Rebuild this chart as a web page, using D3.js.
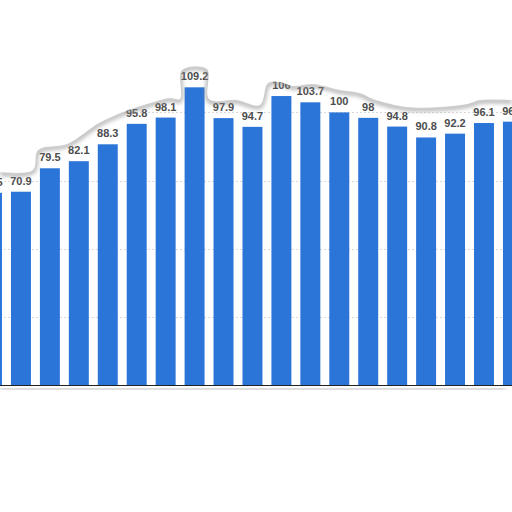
<!DOCTYPE html>
<html><head><meta charset="utf-8">
<script src="https://cdn.jsdelivr.net/npm/d3@7"></script>
<style>html,body{margin:0;padding:0;background:#fff;overflow:hidden}</style>
</head><body>
<svg id="c" width="512" height="512"></svg>
<script>
const categories = ["c1","c2","c3","c4","c5","c6","c7","c8","c9","c10","c11","c12","c13","c14","c15","c16","c17","c18","c19"];
const values = [70.5,70.9,79.5,82.1,88.3,95.8,98.1,109.2,97.9,94.7,106,103.7,100,98,94.8,90.8,92.2,96.1,96.6];
const gridTicks = [25,50,75,100,125];

const svg = d3.select("#c");
const x = d3.scaleBand().domain(categories).range([-22.47, 527.4]).paddingInner(0.31).paddingOuter(0.155);
const y = d3.scaleLinear().domain([0,125]).range([385, 44.25]);

const defs = svg.append("defs");
const f = defs.append("filter").attr("id","blur").attr("x","-10%").attr("y","-50%").attr("width","120%").attr("height","200%");
f.append("feGaussianBlur").attr("stdDeviation",2);

// gridlines
svg.append("g").selectAll("line").data(gridTicks).join("line")
  .attr("x1",0).attr("x2",512)
  .attr("y1",d=>Math.round(y(d))+0.5).attr("y2",d=>Math.round(y(d))+0.5)
  .attr("stroke","#d8d8d8").attr("stroke-dasharray","2,2");

// bars
svg.append("g").selectAll("rect").data(values).join("rect")
  .attr("x",(d,i)=>x(categories[i]))
  .attr("width",x.bandwidth())
  .attr("y",d=>y(d))
  .attr("height",d=>y(0)-y(d))
  .attr("fill","#2b74d8");

// labels
svg.append("g").selectAll("text").data(values).join("text")
  .attr("x",(d,i)=>x(categories[i])+x.bandwidth()/2)
  .attr("y",d=>y(d)-7)
  .attr("text-anchor","middle")
  .attr("font-family","Liberation Sans, Arial, sans-serif")
  .attr("font-size","11px").attr("font-weight","bold")
  .attr("fill","#4d4d4d")
  .text(d=>d);

// torn paper top edge (decoration)
const tear = [[0,175],[33,173],[38,153],[67,147],[90,132],[97,127],[123,115],[147,107],[170,101],[180,102],[182,73],[207,72],[209,102],[237,103],[260,108],[268,86],[280,85],[293,89],[313,87],[340,93],[360,96],[373,102],[407,110],[440,110],[467,107],[480,103],[512,103]];
const line = d3.line().curve(d3.curveCatmullRom);
const topPath = line(tear) + "L512,0L0,0Z";
svg.append("path").attr("d",line(tear)).attr("fill","none").attr("stroke","#8a8a8a").attr("stroke-width",4).attr("opacity",0.7).attr("filter","url(#blur)").attr("transform","translate(0,-1.5)");
svg.append("path").attr("d",topPath).attr("fill","#fff").attr("transform","translate(0,-3)");

// bottom shadow and white area
svg.append("rect").attr("x",0).attr("y",386).attr("width",512).attr("height",126).attr("fill","#fff");
svg.append("line").attr("x1",0).attr("x2",505).attr("y1",388.5).attr("y2",389).attr("stroke","#bbb").attr("stroke-width",3).attr("filter","url(#blur)");
svg.append("line").attr("x1",0).attr("x2",512).attr("y1",385.5).attr("y2",385.5).attr("stroke","#222").attr("stroke-width",1);
</script>
</body></html>
